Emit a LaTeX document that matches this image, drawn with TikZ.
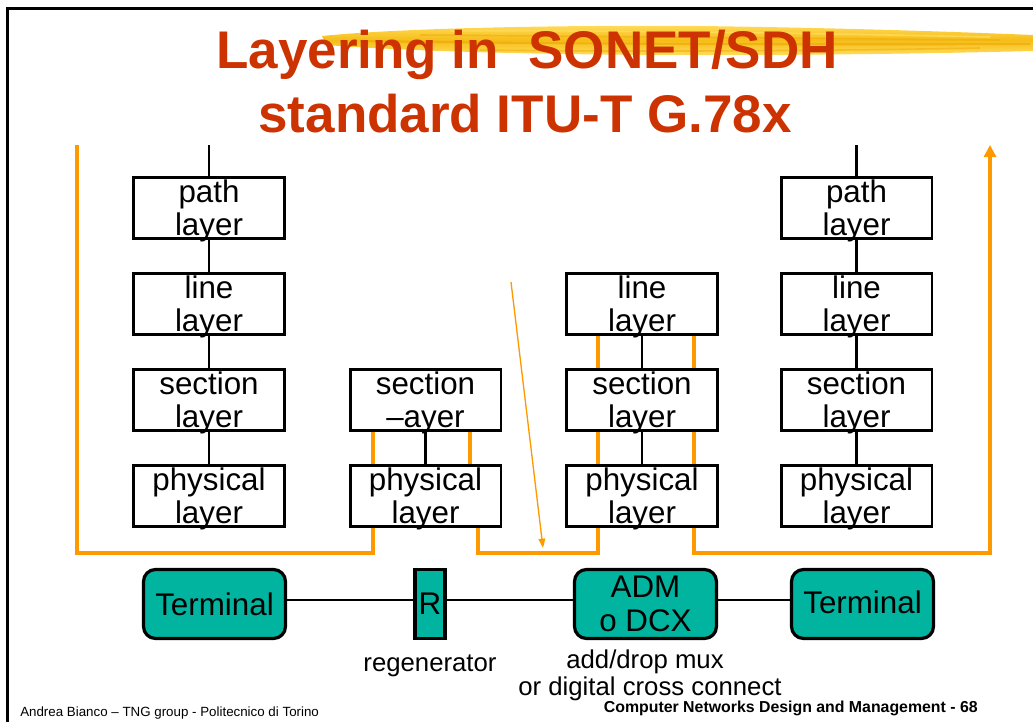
\documentclass[tikz,border=0pt]{standalone}
\usepackage{fontspec}
\setmainfont{Liberation Sans}
\usetikzlibrary{arrows.meta,calc}
\definecolor{titlered}{RGB}{204,51,0}
\definecolor{sorange}{RGB}{255,153,0}
\definecolor{tealfill}{RGB}{0,180,160}
\definecolor{brushA}{RGB}{246,188,24}
\definecolor{brushB}{RGB}{236,165,0}
\definecolor{brushC}{RGB}{255,220,90}
\newcommand\layerbox[5]{%
  \node[lbox] (#1) at (#2,#3) {};
  \node[ltxt] (#1t) at (#2,#3-6) {#4};
  \node[ltxt] (#1b) at (#2,#3+27) {#5};
}
\begin{document}
\begin{tikzpicture}[x=0.75pt,y=-0.75pt,
  lbox/.style={draw,line width=2pt,minimum width=113pt,minimum height=46pt,inner sep=0pt},
  ltxt/.style={anchor=base,inner sep=0pt,font=\fontsize{23.5}{26}\selectfont},
  dev/.style={draw,line width=2.4pt,fill=tealfill,rounded corners=9pt,minimum width=106.5pt,minimum height=51.75pt,inner sep=0pt,align=center,font=\fontsize{23.5}{25.5}\selectfont},
  rbox/.style={draw,line width=2.4pt,fill=tealfill,minimum width=22.5pt,minimum height=51.75pt,inner sep=0pt,font=\fontsize{23.5}{25.5}\selectfont},
  blk/.style={line width=2.2pt},
  org/.style={draw=sorange,line width=3pt},
  lab/.style={anchor=base,inner sep=0pt,font=\fontsize{19.3}{21}\selectfont},
  titletxt/.style={anchor=base,inner sep=0pt,text=titlered,font=\bfseries\fontsize{39.75}{48}\selectfont}
]
\useasboundingbox (0,0) rectangle (1033,722);
% frame
\draw[line width=2.25pt] (7,760) -- (7,8) -- (1060,8);
% brush stroke
\shade[top color=brushC,bottom color=brushC,middle color=brushA] (322,36) .. controls (400,28) and (560,25) .. (700,26) .. controls (850,28) and (960,32) .. (1033,35) -- (1033,51) .. controls (950,53) and (850,55) .. (700,55) .. controls (560,55) and (420,52) .. (326,45) -- cycle;
\draw[brushB,line width=1.6pt,opacity=0.55] (360,41) .. controls (500,43) and (700,45) .. (1030,44);
\draw[brushB,line width=1.2pt,opacity=0.45] (420,35) .. controls (560,36) and (760,38) .. (1000,40);
\draw[brushC,line width=1.2pt,opacity=0.8] (450,31) .. controls (600,30) and (800,33) .. (990,37);
\draw[brushB,line width=1.2pt,opacity=0.45] (480,50) .. controls (620,52) and (820,51) .. (980,48);
% title
\node[titletxt] (title1) at (527,68) {Layering in\ \ SONET/SDH};
\node[titletxt] (title2) at (525,132) {standard ITU-T G.78x};
% layer boxes
\layerbox{P1}{209}{208}{path}{layer}
\layerbox{L1}{209}{304}{line}{layer}
\layerbox{S1}{209}{400}{section}{layer}
\layerbox{Y1}{209}{496}{physical}{layer}
\layerbox{S2}{425.5}{400}{section}{–ayer}
\layerbox{Y2}{425.5}{496}{physical}{layer}
\layerbox{L3}{642}{304}{line}{layer}
\layerbox{S3}{642}{400}{section}{layer}
\layerbox{Y3}{642}{496}{physical}{layer}
\layerbox{P4}{856.5}{208}{path}{layer}
\layerbox{L4}{856.5}{304}{line}{layer}
\layerbox{S4}{856.5}{400}{section}{layer}
\layerbox{Y4}{856.5}{496}{physical}{layer}
% black vertical links
\coordinate (top1) at (209,145);
\coordinate (top4) at (856.5,145);
\draw[blk] (top1) -- (P1.north);
\draw[blk] (P1.south) -- (L1.north);
\draw[blk] (L1.south) -- (S1.north);
\draw[blk] (S1.south) -- (Y1.north);
\draw[blk] (S2.south) -- (Y2.north);
\draw[blk] (L3.south) -- (S3.north);
\draw[blk] (S3.south) -- (Y3.north);
\draw[blk] (top4) -- (P4.north);
\draw[blk] (P4.south) -- (L4.north);
\draw[blk] (L4.south) -- (S4.north);
\draw[blk] (S4.south) -- (Y4.north);
% orange short links
\draw[org] ($(S2.south)+(-52.5,0)$) -- ($(Y2.north)+(-52.5,0)$);
\draw[org] ($(S2.south)+(44.5,0)$) -- ($(Y2.north)+(44.5,0)$);
\draw[org] ($(L3.south)+(-44,0)$) -- ($(S3.north)+(-44,0)$);
\draw[org] ($(L3.south)+(52,0)$) -- ($(S3.north)+(52,0)$);
\draw[org] ($(S3.south)+(-44,0)$) -- ($(Y3.north)+(-44,0)$);
\draw[org] ($(S3.south)+(52,0)$) -- ($(Y3.north)+(52,0)$);
% orange long path
\coordinate (oL) at (77,145);
\coordinate (oR) at (990,145);
\draw[org] (oL) |- ($(Y2.south)+(-52.5,24.5)$) -- ($(Y2.south)+(-52.5,0)$);
\draw[org] ($(Y2.south)+(52.5,0)$) -- ++(0,24.5) -| ($(Y3.south)+(-44,0)$);
\draw[org,-{Triangle[width=9pt,length=9pt]}] ($(Y3.south)+(52,0)$) -- ++(0,24.5) -| (oR);
% thin arrow
\coordinate (ta) at (511,282);
\coordinate (tb) at (543,548);
\draw[sorange,line width=1pt,-{Triangle[width=5pt,length=7pt]}] (ta) -- (tb);
% devices
\node[dev] (T1) at (214.5,604) {Terminal};
\node[rbox] (R) at (430,604) {R};
\node[dev] (ADM) at (645.5,604) {ADM\\o DCX};
\node[dev] (T2) at (862.5,604) {\raisebox{3pt}{Terminal}};
\draw[blk] ($(T1.east)+(0,-4)$) -- ($(R.west)+(0,-4)$);
\draw[blk] ($(R.east)+(0,-4)$) -- ($(ADM.west)+(0,-4)$);
\draw[blk] ($(ADM.east)+(0,-4)$) -- ($(T2.west)+(0,-4)$);
% labels
\node[lab] (regl) at (430,671) {regenerator};
\node[lab] (adml) at (645,668) {add/drop mux};
\node[lab] (dcxl) at (650,695) {or digital cross connect};
% footer
\node[anchor=base west,inner sep=0pt,font=\fontsize{10}{12}\selectfont] (footl) at (20,716) {Andrea Bianco – TNG group - Politecnico di Torino};
\node[anchor=base east,inner sep=0pt,font=\bfseries\fontsize{11.9}{14}\selectfont] (footr) at (978,712) {Computer Networks Design and Management - 68};
\end{tikzpicture}
\end{document}
